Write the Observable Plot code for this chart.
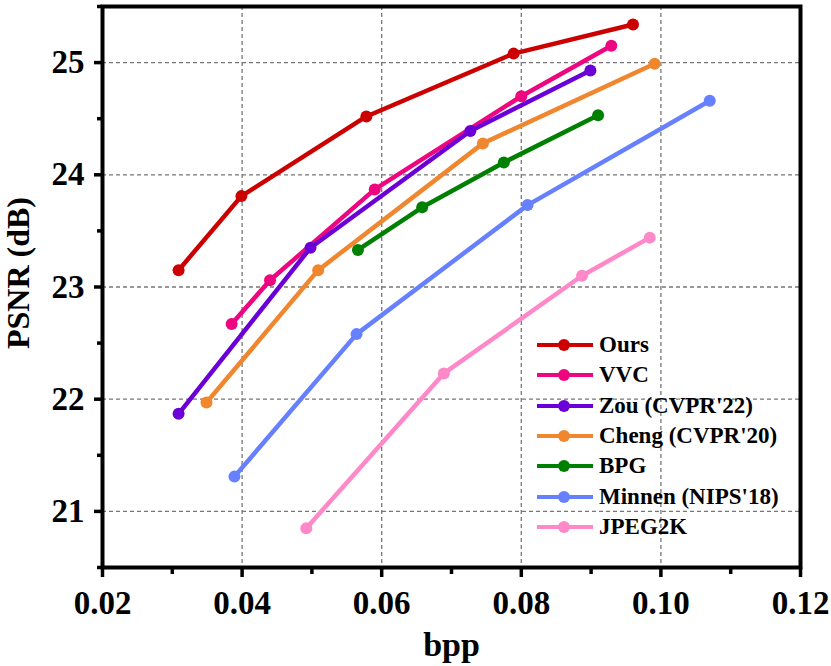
<!DOCTYPE html>
<html>
<head>
<meta charset="utf-8">
<script src="https://cdn.jsdelivr.net/npm/d3@7"></script>
<script src="https://cdn.jsdelivr.net/npm/@observablehq/plot@0.6"></script>
<style>
  html, body { margin: 0; padding: 0; background: #fff; }
  #wrap { position: relative; width: 831px; height: 666px; }
  #legend { position: absolute; left: 536px; top: 330px; font-family: "Liberation Serif", "Times New Roman", serif; font-weight: bold; font-size: 23px; color: #000; }
  .row { display: flex; align-items: center; height: 30.3px; }
  .row svg { margin-right: 5px; }
</style>
</head>
<body>
<div id="wrap"><div id="legend"></div></div>
<script>
const seriesNames = ["Ours", "VVC", "Zou (CVPR'22)", "Cheng (CVPR'20)", "BPG", "Minnen (NIPS'18)", "JPEG2K"];
const seriesColors = ["#cc0000", "#ee0580", "#6a00d6", "#f0872e", "#008000", "#6680ff", "#ff88c8"];

const oursBpp  = [0.0309, 0.0399, 0.0578, 0.0789, 0.0960];
const oursPsnr = [23.15, 23.81, 24.52, 25.08, 25.34];
const vvcBpp   = [0.0385, 0.0440, 0.0590, 0.0800, 0.0929];
const vvcPsnr  = [22.67, 23.06, 23.87, 24.70, 25.15];
const zouBpp   = [0.0309, 0.0498, 0.0727, 0.0899];
const zouPsnr  = [21.87, 23.35, 24.39, 24.93];
const chengBpp = [0.0349, 0.0509, 0.0745, 0.0991];
const chengPsnr= [21.97, 23.15, 24.28, 24.99];
const bpgBpp   = [0.0566, 0.0658, 0.0775, 0.0910];
const bpgPsnr  = [23.33, 23.71, 24.11, 24.53];
const minnenBpp  = [0.0389, 0.0564, 0.0809, 0.1070];
const minnenPsnr = [21.31, 22.58, 23.73, 24.66];
const jpegBpp  = [0.0492, 0.0689, 0.0887, 0.0984];
const jpegPsnr = [20.85, 22.23, 23.10, 23.44];

const xMajorTicks = [0.02, 0.04, 0.06, 0.08, 0.10, 0.12];
const xMinorTicks = [0.03, 0.05, 0.07, 0.09, 0.11];
const yMajorTicks = [21, 22, 23, 24, 25];
const yMinorTicks = [20.5, 21.5, 22.5, 23.5, 24.5, 25.5];

const bppArrays = [oursBpp, vvcBpp, zouBpp, chengBpp, bpgBpp, minnenBpp, jpegBpp];
const psnrArrays = [oursPsnr, vvcPsnr, zouPsnr, chengPsnr, bpgPsnr, minnenPsnr, jpegPsnr];

const seriesMarks = [];
seriesNames.forEach((name, i) => {
  const rows = bppArrays[i].map((b, j) => ({series: name, bpp: b, psnr: psnrArrays[i][j]}));
  seriesMarks.push(Plot.line(rows, {x: "bpp", y: "psnr", stroke: "series", strokeWidth: 4.5}));
  seriesMarks.push(Plot.dot(rows, {x: "bpp", y: "psnr", fill: "series", r: 6}));
});

const font = {fontFamily: "Liberation Serif", fontWeight: "bold"};
const chart = Plot.plot({
  width: 831,
  height: 666,
  marginLeft: 102,
  marginRight: 31,
  marginTop: 6,
  marginBottom: 99,
  style: {fontFamily: "Liberation Serif, Times New Roman, serif", fontWeight: "bold", background: "white", color: "#000"},
  x: {domain: [0.02, 0.12]},
  y: {domain: [20.5, 25.5]},
  color: {domain: seriesNames, range: seriesColors},
  marks: [
    Plot.gridX(xMajorTicks.slice(1, -1), {stroke: "#777", strokeOpacity: 1, strokeWidth: 1.3, strokeDasharray: "4,3"}),
    Plot.gridY(yMajorTicks, {stroke: "#777", strokeOpacity: 1, strokeWidth: 1.3, strokeDasharray: "4,3"}),
    ...seriesMarks,
    Plot.frame({stroke: "#000", strokeWidth: 4}),
    Plot.axisX(xMajorTicks, {tickSize: 10, tickPadding: 13, strokeWidth: 3.5, fontSize: 33, tickFormat: d3.format(".2f"), label: null, ...font}),
    Plot.axisX(xMinorTicks, {tickSize: 7, strokeWidth: 3.5, text: null, label: null}),
    Plot.axisY(yMajorTicks, {tickSize: 8, tickPadding: 10, strokeWidth: 3.5, fontSize: 33, tickFormat: d3.format("d"), label: null, ...font}),
    Plot.axisY(yMinorTicks, {tickSize: 5, strokeWidth: 3.5, text: null, label: null}),
    Plot.text(["bpp"], {frameAnchor: "bottom", textAnchor: "middle", dy: 88, fontSize: 34, ...font}),
    Plot.text(["PSNR (dB)"], {frameAnchor: "left", textAnchor: "middle", lineAnchor: "middle", rotate: -90, dx: -84, dy: -14, fontSize: 32, ...font})
  ]
});
document.getElementById("wrap").prepend(chart);

const legend = document.getElementById("legend");
seriesNames.forEach((name, i) => {
  const row = document.createElement("div");
  row.className = "row";
  row.innerHTML = `<svg width="58" height="14"><line x1="1" y1="7" x2="57" y2="7" stroke="${seriesColors[i]}" stroke-width="4"/><circle cx="28" cy="7" r="6" fill="${seriesColors[i]}"/></svg><span>${name}</span>`;
  legend.appendChild(row);
});
</script>
</body>
</html>
